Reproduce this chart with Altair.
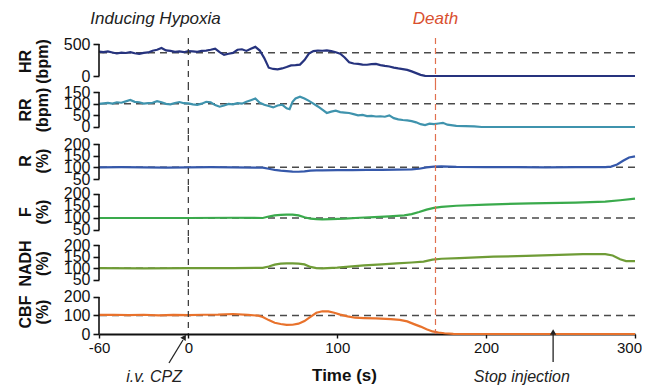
import altair as alt
import pandas as pd

FONT = "Liberation Sans"
XDOM = [-60, 300]
PANEL_W = 536

# ---------------- data ----------------
t_hr = [-60, -57, -54, -51, -48, -45, -42, -39, -36, -33, -30, -27, -24, -21, -18, -15, -12, -9, -6, -3,
        0, 3, 6, 9, 12, 15, 18, 21, 24, 27, 30, 33, 36, 39, 42, 45, 48, 51, 54, 57,
        60, 63, 66, 69, 72, 75, 78, 81, 84, 87, 90, 93, 96, 99, 102, 105, 108, 111, 114, 117,
        120, 123, 126, 129, 132, 135, 138, 141, 144, 147, 150, 153, 156, 159, 162, 300]
v_hr = [380, 372, 385, 368, 352, 366, 360, 372, 355, 345, 362, 368, 395, 410, 438, 400, 392, 378, 384, 372,
        390, 384, 376, 392, 398, 410, 428, 372, 330, 348, 362, 410, 418, 392, 425, 455, 398, 280, 130, 110,
        105, 118, 140, 165, 170, 178, 250, 350, 390, 398, 395, 400, 388, 372, 350, 290, 215, 195, 190, 178,
        176, 185, 188, 170, 158, 148, 130, 118, 108, 95, 72, 45, 18, 2, 0, 0]

t_rr = [-60, -57, -54, -51, -48, -45, -42, -39, -36, -33, -30, -27, -24, -21, -18, -15, -12, -9, -6, -3,
        0, 3, 6, 9, 12, 15, 18, 21, 24, 27, 30, 33, 36, 39, 42, 45, 48, 51, 54, 57,
        60, 63, 66, 68, 70, 72, 75, 78, 81, 84, 87, 90, 93, 96, 99, 102, 105, 108, 111, 114,
        117, 120, 123, 126, 129, 132, 135, 138, 141, 144, 147, 150, 153, 156, 159, 162, 165, 168, 171, 174,
        180, 186, 192, 197, 300]
v_rr = [99, 101, 103, 100, 106, 104, 110, 116, 108, 106, 100, 102, 104, 111, 106, 99, 97, 103, 107, 102,
        101, 97, 95, 100, 108, 106, 94, 87, 92, 99, 97, 102, 100, 108, 115, 122, 104, 95, 90, 84,
        92, 96, 80, 76, 108, 122, 130, 122, 112, 100, 88, 74, 60, 66, 70, 64, 62, 60, 55, 50,
        52, 47, 48, 45, 46, 44, 50, 38, 33, 30, 28, 25, 20, 12, 8, 14, 12, 15, 18, 10,
        5, 4, 3, 0, 0]

t_r = [-60, -45, -30, -15, 0, 15, 30, 45, 50, 54, 58, 62, 66, 70, 74, 78, 82, 86, 90, 100,
       110, 120, 130, 140, 150, 155, 160, 165, 170, 180, 200, 220, 240, 260, 280, 284, 288, 292, 296, 300]
v_r = [100, 101, 100, 99, 100, 101, 100, 99, 99, 94, 89, 86, 84, 82, 81, 83, 86, 87, 87, 88,
       88, 89, 89, 90, 91, 94, 100, 103, 104, 102, 101, 101, 100, 101, 101, 103, 112, 128, 142, 147]

t_f = [-60, -30, 0, 30, 50, 54, 58, 62, 66, 70, 74, 78, 82, 86, 90, 96, 105, 115, 125, 135,
       145, 150, 155, 160, 165, 170, 180, 200, 230, 260, 280, 290, 300]
v_f = [100, 100, 100, 101, 100, 106, 111, 113, 114, 114, 111, 103, 97, 95, 94, 95, 97, 101, 104, 107,
       111, 116, 125, 135, 142, 146, 151, 156, 161, 164, 168, 174, 181]

t_nadh = [-60, -30, 0, 30, 50, 54, 58, 62, 66, 70, 74, 78, 82, 86, 90, 100, 110, 118, 130, 140,
          150, 158, 164, 170, 182, 205, 227, 249, 265, 280, 285, 290, 294, 300]
v_nadh = [101, 100, 101, 101, 102, 108, 116, 120, 121, 121, 120, 117, 106, 101, 100, 103, 108, 113, 117, 121,
          125, 129, 137, 141, 144, 150, 153, 158, 161, 161, 155, 139, 131, 131]

t_cbf = [-60, -50, -40, -30, -20, -10, 0, 10, 20, 30, 40, 47, 50, 54, 58, 62, 66, 70, 74, 78,
         82, 86, 90, 94, 98, 102, 107, 112, 118, 126, 136, 142, 147, 152, 156, 160, 164, 168, 172, 178,
         185, 300]
v_cbf = [103, 104, 102, 104, 101, 103, 102, 104, 105, 108, 103, 99, 92, 75, 61, 54, 49, 50, 56, 70,
         93, 115, 123, 122, 115, 105, 95, 88, 86, 84, 80, 76, 68, 52, 40, 26, 14, 8, 4, 1,
         0, 0]

# reference (baseline) levels, events and annotations
ref_levels = {"HR": 365, "RR": 100, "R": 100, "F": 100, "NADH": 100, "CBF": 100}
t_cpz = 0
t_death = 166
t_stop = 245
top_labels = ["Inducing Hypoxia", "Death"]
top_label_t = [-22, 166]
top_label_colors = ["#222222", "#d9502f"]
bottom_labels = ["i.v. CPZ", "Stop injection"]
bottom_label_t = [-23, 224]
x_ticks = [-60, 0, 100, 200, 300]

# ---------------- helpers ----------------
def x_enc(axis=None):
    return alt.X("t:Q", scale=alt.Scale(domain=XDOM, nice=False, zero=False), axis=axis)


def y_enc(domain, ticks, title):
    return alt.Y(
        "v:Q",
        scale=alt.Scale(domain=domain, nice=False, zero=False),
        axis=alt.Axis(
            values=ticks, title=title, domain=False, grid=False,
            ticks=True, tickColor="#111", tickWidth=1.6, tickSize=6,
            labelFont=FONT, labelFontSize=16, labelColor="#111", labelPadding=3,
            labelOverlap=False,
            titleFont=FONT, titleFontSize=16, titleFontWeight="bold", titleColor="#111",
            titlePadding=13, titleLineHeight=17,
        ),
    )


def panel(t, v, color, domain, ticks, title, ref, height, xaxis=None, extra=None):
    x = x_enc(xaxis)
    y = y_enc(domain, ticks, title)
    df = pd.DataFrame({"t": t, "v": v})
    line = alt.Chart(df).mark_line(color=color, strokeWidth=2.2).encode(x=x, y=y)
    refline = alt.Chart(pd.DataFrame({"v": [ref]})).mark_rule(
        color="#4a4a4a", strokeWidth=1.5, strokeDash=[7, 5]).encode(y=y)
    bracket = alt.Chart(pd.DataFrame({"t": [XDOM[0]], "v": [ticks[0]], "v2": [ticks[-1]]})).mark_rule(
        color="#111", strokeWidth=1.6).encode(x=x, y=y, y2="v2:Q")
    vcpz = alt.Chart(pd.DataFrame({"t": [t_cpz]})).mark_rule(
        color="#333", strokeWidth=1.2, strokeDash=[6, 5]).encode(x=x)
    vdeath = alt.Chart(pd.DataFrame({"t": [t_death]})).mark_rule(
        color="#e0704f", strokeWidth=1.2, strokeDash=[6, 4]).encode(x=x)
    layers = [refline, line, bracket, vcpz, vdeath]
    if extra:
        layers += [e(x) for e in extra]
    return alt.layer(*layers).properties(width=PANEL_W, height=height)


# top annotations (in HR panel)
def top_text(x):
    df = pd.DataFrame({"t": top_label_t, "label": top_labels, "c": top_label_colors})
    return alt.Chart(df).mark_text(
        font=FONT, fontSize=17, fontStyle="italic", baseline="middle", align="center"
    ).encode(x=x, y=alt.value(-19), text="label:N", color=alt.Color("c:N", scale=None))


# bottom annotations (in CBF panel)
def bot_text(x):
    df = pd.DataFrame({"t": bottom_label_t, "label": bottom_labels})
    return alt.Chart(df).mark_text(
        font=FONT, fontSize=16, fontStyle="italic", baseline="middle", align="center", color="#222"
    ).encode(x=x, y=alt.value(88), text="label:N")


def arrow_cpz(x):
    df = pd.DataFrame({"t": [t_cpz - 13], "t2": [t_cpz - 3.6]})
    return alt.Chart(df).mark_rule(color="#222", strokeWidth=1.3).encode(
        x=x, x2="t2:Q", y=alt.value(74), y2=alt.value(51))


def head_cpz(x):
    df = pd.DataFrame({"t": [t_cpz - 2.6]})
    return alt.Chart(df).mark_point(
        shape="triangle-up", filled=True, size=40, color="#222", angle=31, opacity=1
    ).encode(x=x, y=alt.value(48))


def arrow_stop(x):
    df = pd.DataFrame({"t": [t_stop]})
    return alt.Chart(df).mark_rule(color="#222", strokeWidth=1.3).encode(
        x=x, y=alt.value(73), y2=alt.value(45))


def head_stop(x):
    df = pd.DataFrame({"t": [t_stop]})
    return alt.Chart(df).mark_point(
        shape="triangle-up", filled=True, size=40, color="#222", opacity=1
    ).encode(x=x, y=alt.value(43))


xaxis = alt.Axis(
    values=x_ticks, title="Time (s)", grid=False,
    domain=True, domainColor="#111", domainWidth=2,
    ticks=True, tickColor="#111", tickWidth=1.4, tickSize=4,
    labelFont=FONT, labelFontSize=15, labelColor="#111", labelPadding=2, labelFlush=False,
    labelOverlap=False, labelExpr="'' + datum.value",
    labelOffset={"condition": {"test": "datum.value === 300", "value": -6}, "value": 0},
    titleFont=FONT, titleFontSize=17, titleFontWeight="bold", titleColor="#111",
    titleX=245, titleY=41, titleBaseline="middle",
)

hr = panel(t_hr, v_hr, "#26337e", [-125, 594], [0, 500], ["HR", "(bpm)"], ref_levels["HR"], 46,
           extra=[top_text])
rr = panel(t_rr, v_rr, "#3f93ad", [-34.3, 184.3], [0, 50, 100, 150], ["RR", "(bpm)"], ref_levels["RR"], 51)
r = panel(t_r, v_r, "#3558aa", [20, 238.6], [50, 100, 150, 200], ["R", "(%)"], ref_levels["R"], 51)
f = panel(t_f, v_f, "#3aaa4c", [20.8, 233.3], [50, 100, 150, 200], ["F", "(%)"], ref_levels["F"], 51)
nadh = panel(t_nadh, v_nadh, "#6f9c36", [11.4, 234.3], [50, 100, 150, 200], ["NADH", "(%)"],
             ref_levels["NADH"], 52)
cbf = panel(t_cbf, v_cbf, "#e8722c", [0, 243.2], [0, 100, 200], ["CBF", "(%)"], ref_levels["CBF"], 45,
            xaxis=xaxis, extra=[bot_text, arrow_cpz, head_cpz, arrow_stop, head_stop])

chart = alt.vconcat(hr, rr, r, f, nadh, cbf, spacing=0, bounds="flush").resolve_scale(
    y="independent", x="shared"
).properties(
    padding={"left": 9, "top": 2, "right": 0, "bottom": 0},
    background="white",
).configure_view(stroke=None)

chart.save("out.html", embed_options={"renderer": "svg", "actions": False})
